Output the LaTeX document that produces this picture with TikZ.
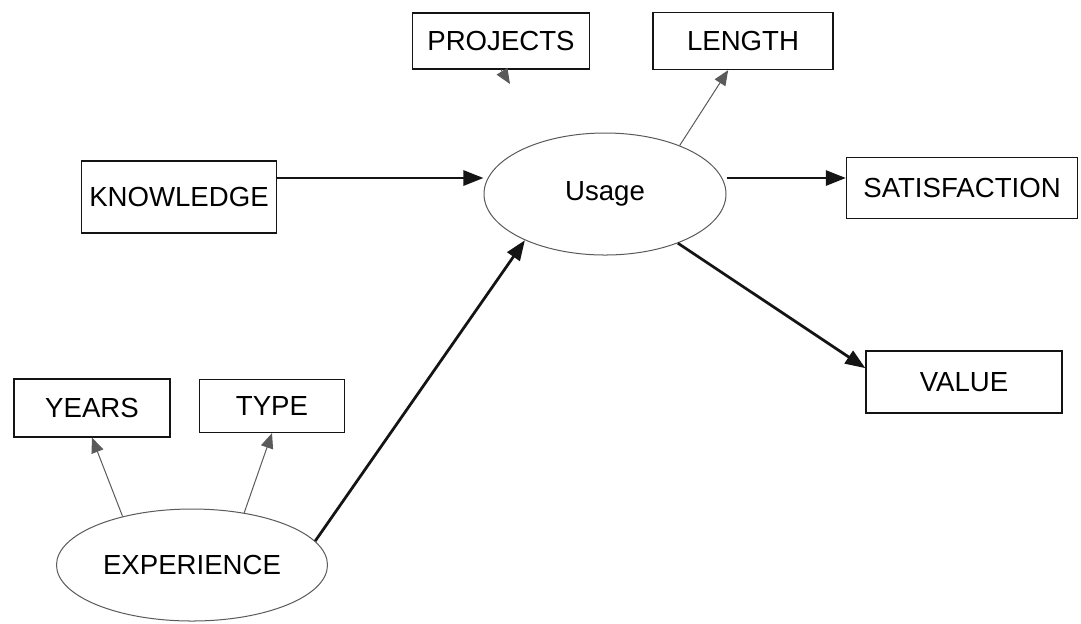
\documentclass[tikz,border=0pt]{standalone}
\usepackage{fontspec}
\setmainfont{Liberation Sans}
\usepackage{tikz}
\usetikzlibrary{shapes.geometric, arrows.meta, positioning, calc}
\definecolor{mydark}{RGB}{20,20,20}
\definecolor{mygrey}{RGB}{90,90,90}
\tikzset{
  measure/.style={rectangle, draw=mydark, fill=white, inner sep=0pt,
    align=center, font=\fontsize{11}{13}\selectfont, line width=0.5pt},
  latent/.style={ellipse, draw=mygrey, fill=white, inner sep=0pt,
    font=\fontsize{11}{13}\selectfont, line width=0.4pt},
  arrow/.style={-{Triangle[length=8pt, width=6pt]}, line width=1.1pt, color=mydark},
  thinarrow/.style={-{Triangle[length=6pt, width=5pt]}, line width=0.4pt, color=mygrey}
}
\begin{document}
\begin{tikzpicture}[x=0.014cm, y=-0.014cm]
  \useasboundingbox (0,0) rectangle (1081,623);

  % Usage and its measures
  \node[latent, minimum width=242*0.014cm, minimum height=122*0.014cm] (usage) at (605,194) {Usage};
  \node[measure, minimum width=177*0.014cm, minimum height=56*0.014cm] (projects) at (501,41) {PROJECTS};
  \node[measure, minimum width=180*0.014cm, minimum height=57*0.014cm] (length) at (743,41) {LENGTH};
  \node[measure, minimum width=195*0.014cm, minimum height=72*0.014cm] (knowledge) at (179,197) {KNOWLEDGE};
  \node[measure, minimum width=231*0.014cm, minimum height=61*0.014cm] (satisfaction) at (962,188) {SATISFACTION};
  \node[measure, minimum width=196*0.014cm, minimum height=62*0.014cm] (value) at (964,382) {VALUE};

  % Experience and its measures
  \node[latent, minimum width=271*0.014cm, minimum height=112*0.014cm] (experience) at (192,565) {EXPERIENCE};
  \node[measure, minimum width=156*0.014cm, minimum height=58*0.014cm] (years) at (92,408) {YEARS};
  \node[measure, minimum width=145*0.014cm, minimum height=53*0.014cm] (type) at (272,406) {TYPE};

  \coordinate (projtip) at (510,84);

  % Paths
  \draw[arrow] (knowledge.east |- 0,178) -- (usage.west |- 0,178);
  \draw[arrow] ($(usage.east)+(0,-16)$) -- (satisfaction.west |- 0,178);
  \draw[arrow] (usage.-34) -- (value.172);
  \draw[arrow] (experience.11) -- (usage.-150);
  \draw[thinarrow] (usage.33) -- (length.243);
  \draw[thinarrow] (projects.south) -- (projtip);
  \draw[thinarrow] (experience.145) -- (years.south);
  \draw[thinarrow] (experience.45) -- (type.south);
\end{tikzpicture}
\end{document}
